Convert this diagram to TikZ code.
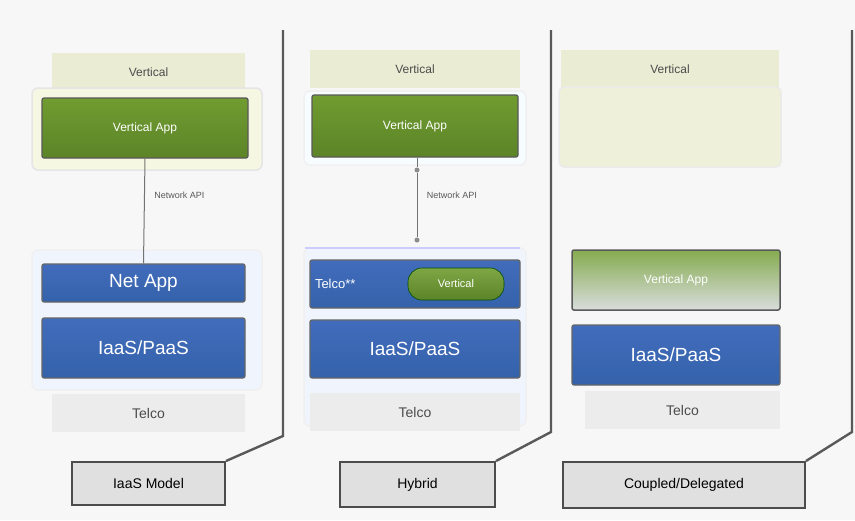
\documentclass[tikz,border=0pt]{standalone}
\usepackage{fontspec}
\setmainfont{Liberation Sans}
\definecolor{gtop}{RGB}{112,156,48}
\definecolor{gbot}{RGB}{92,132,40}
\definecolor{btop}{RGB}{66,108,188}
\definecolor{bbot}{RGB}{52,98,170}
\definecolor{vband}{RGB}{235,236,212}
\definecolor{tband}{RGB}{236,236,236}
\definecolor{paley}{RGB}{245,247,226}
\definecolor{paleb}{RGB}{240,244,252}
\definecolor{vbox}{RGB}{238,240,218}
\begin{document}
\begin{tikzpicture}[x=1pt,y=-1pt,
  band/.style={draw=none,fill=#1,minimum height=38pt,inner sep=0pt,font=\fontsize{12}{12}\selectfont,text=black!70},
  holder/.style={draw=black!10,line width=1.5pt,fill=#1,rounded corners=6pt,inner sep=0pt},
  greenbox/.style={draw=black!65,line width=1.2pt,top color=gtop,bottom color=gbot,rounded corners=2pt,inner sep=0pt,text=white,font=\fontsize{12}{12}\selectfont},
  bluebox/.style={draw=black!60,line width=1.2pt,top color=btop,bottom color=bbot,rounded corners=2pt,inner sep=0pt,text=white,font=\fontsize{19}{19}\selectfont},
  labelbox/.style={draw=black!70,line width=2pt,fill=black!12,inner sep=0pt,font=\fontsize{14}{14}\selectfont},
  api/.style={font=\fontsize{9}{9}\selectfont,text=black!65},
  link/.style={draw=black!55,line width=1pt},
  divider/.style={draw=black!65,line width=2.4pt},
  dotend/.style={circle,fill=black!45,inner sep=0pt,minimum size=5pt}
]
\useasboundingbox (0,0) rectangle (855,520);
\fill[black!3] (0,0) rectangle (855,520);

% ---------- panel 1 ----------
\node[band=vband,minimum width=193pt] (v1) at (148.5,72) {Vertical};
\node[holder=paley,minimum width=230pt,minimum height=82pt] (h1) at (147,129) {};
\node[greenbox,minimum width=206pt,minimum height=60pt] (va1) at (145,128) {Vertical App};
\node[holder=paleb,minimum width=230pt,minimum height=140pt,draw=black!6] (h1b) at (147,320) {};
\node[bluebox,minimum width=203pt,minimum height=38pt] (na1) at (143.5,283) {Net App};
\node[bluebox,minimum width=203pt,minimum height=60pt] (ip1) at (143.5,348) {IaaS/PaaS};
\node[band=tband,minimum width=193pt,font=\fontsize{14}{14}\selectfont] (t1) at (148.5,413) {Telco};
\draw[link] (va1.south) -- (na1.north) node[api,pos=0.35,right=6pt] {Network API};
\node[labelbox,minimum width=153pt,minimum height=43pt] (l1) at (148.5,483.5) {IaaS Model};
\coordinate (d1a) at (283,30);
\coordinate (d1b) at (283,436);
\draw[divider] (d1a) -- (d1b) -- (l1.north east);

% ---------- panel 2 ----------
\node[band=vband,minimum width=210pt] (v2) at (415,69) {Vertical};
\node[holder=cyan!3!white,minimum width=222pt,minimum height=74pt,draw=black!6] (h2) at (415,128) {};
\node[greenbox,minimum width=206pt,minimum height=62pt] (va2) at (415,126) {Vertical App};
\node[holder=paleb,minimum width=222pt,minimum height=178pt,draw=black!6] (h2b) at (415,337) {};
\draw[blue!20,line width=2pt] (305,248) -- (520,248);
\node[bluebox,minimum width=210pt,minimum height=48pt,font=\fontsize{13}{13}\selectfont,text width=200pt,align=left] (tc2) at (415,284) {Telco**};
\node[draw=green!30!black,line width=0.6pt,top color=gtop!90!white,bottom color=gbot,rounded corners=14pt,minimum width=96pt,minimum height=32pt,inner sep=0pt,text=white,font=\fontsize{11}{11}\selectfont] (vp2) at (456,284) {Vertical};
\node[bluebox,minimum width=210pt,minimum height=58pt] (ip2) at (415,349) {IaaS/PaaS};
\node[band=tband,minimum width=210pt,font=\fontsize{14}{14}\selectfont] (t2) at (415,412) {Telco};
\node[dotend] (p2a) at (417,170) {};
\node[dotend] (p2b) at (417,240) {};
\draw[link] (va2.south -| p2a) -- (p2a) -- (p2b) node[api,pos=0.35,right=6pt] {Network API};
\node[labelbox,minimum width=155pt,minimum height=45pt] (l2) at (417.5,484.5) {Hybrid};
\coordinate (d2a) at (551,30);
\coordinate (d2b) at (551,432);
\draw[divider] (d2a) -- (d2b) -- (l2.north east);

% ---------- panel 3 ----------
\node[band=vband,minimum width=218pt] (v3) at (670,69) {Vertical};
\node[draw=black!8,line width=1.5pt,fill=vbox,rounded corners=5pt,minimum width=222pt,minimum height=80pt,inner sep=0pt] (vb3) at (670,127) {};
\node[draw=black!65,line width=1.5pt,top color=gtop!85!white,bottom color=cyan!10!black!15!white,rounded corners=2pt,minimum width=208pt,minimum height=60pt,inner sep=0pt,text=white,font=\fontsize{12}{12}\selectfont] (va3) at (676,280) {Vertical App};
\node[bluebox,minimum width=208pt,minimum height=60pt] (ip3) at (676,355) {IaaS/PaaS};
\node[band=tband,minimum width=195pt,font=\fontsize{14}{14}\selectfont] (t3) at (682.5,410) {Telco};
\node[labelbox,minimum width=242pt,minimum height=46pt] (l3) at (684,485) {Coupled/Delegated};
\coordinate (d3a) at (852,30);
\coordinate (d3b) at (852,432);
\draw[divider] (d3a) -- (d3b) -- (l3.north east);
\end{tikzpicture}
\end{document}
